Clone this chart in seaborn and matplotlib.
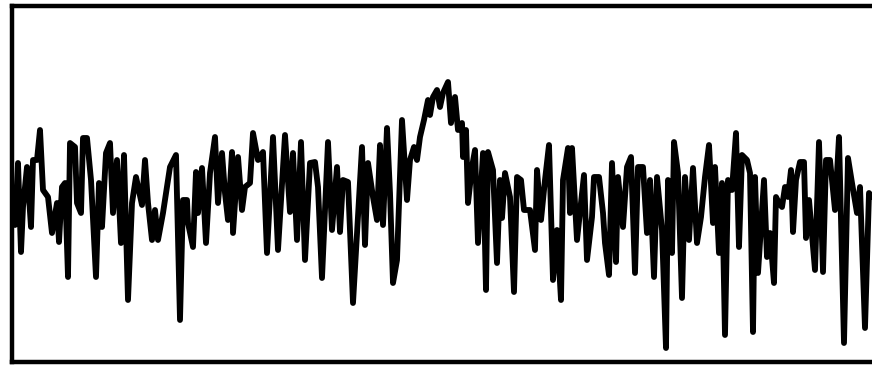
import matplotlib
matplotlib.use("Agg")
import matplotlib.pyplot as plt
import seaborn as sns
import pandas as pd

# readings: sample position and signal level (arbitrary units)
time = [
    13, 15, 18, 21, 23, 27, 31, 33, 37, 40, 43, 48, 52, 57, 59, 62, 65, 68, 70, 75,
    77, 81, 83, 87, 91, 96, 99, 102, 106, 110, 113, 117, 121, 124, 128, 132, 136, 142,
    145, 148, 152, 155, 158, 163, 170, 176, 180, 183, 187, 188, 193, 196, 198, 202,
    206, 210, 215, 218, 222, 225, 228, 232, 233, 238, 242, 245, 250, 253, 258, 263,
    267, 273, 278, 285, 290, 293, 297, 301, 305, 310, 315, 318, 322, 328, 332, 337,
    340, 343, 348, 353, 362, 365, 368, 373, 377, 380, 383, 387, 390, 393, 397, 402,
    407, 410, 414, 417, 420, 424, 428, 430, 433, 437, 440, 443, 448, 451, 455, 458,
    462, 463, 466, 468, 472, 475, 478, 483, 486, 488, 493, 497, 500, 502, 505, 510,
    514, 517, 521, 524, 530, 535, 537, 541, 545, 549, 553, 557, 561, 563, 568, 570,
    572, 577, 584, 587, 592, 594, 599, 603, 605, 609, 612, 616, 618, 623, 627, 631,
    635, 638, 643, 647, 650, 654, 657, 662, 666, 668, 672, 674, 678, 682, 685, 689,
    693, 697, 701, 705, 709, 713, 715, 719, 722, 725, 728, 732, 736, 739, 742, 747,
    750, 753, 755, 758, 764, 767, 770, 774, 776, 779, 782, 785, 788, 791, 793, 796,
    800, 804, 806, 809, 815, 819, 823, 826, 830, 835, 839, 844, 848, 852, 857, 860,
    865, 869, 872,
]
level_px = [
    200, 225, 163, 252, 207, 167, 227, 160, 160, 130, 190, 197, 233, 203, 242, 187, 183, 277, 143, 147,
    203, 213, 138, 138, 180, 277, 183, 227, 153, 143, 213, 160, 243, 155, 300, 203, 177, 205,
    160, 203, 240, 210, 240, 213, 167, 155, 320, 200, 200, 223, 247, 172, 213, 168,
    243, 173, 137, 203, 153, 193, 220, 152, 233, 157, 210, 187, 183, 133, 160, 152,
    253, 137, 250, 135, 212, 153, 240, 142, 260, 163, 162, 187, 278, 142, 230, 167,
    232, 180, 182, 303, 147, 245, 163, 197, 220, 145, 225, 128, 193, 283, 260, 120,
    200, 160, 147, 160, 137, 120, 100, 115, 97, 90, 107, 93, 82, 123, 97, 130,
    123, 157, 130, 203, 167, 150, 243, 153, 290, 152, 170, 263, 180, 218, 173, 197,
    292, 177, 180, 210, 210, 250, 170, 220, 180, 145, 280, 230, 300, 180, 148, 213,
    148, 240, 175, 260, 217, 177, 177, 213, 243, 275, 163, 262, 177, 227, 167, 157,
    273, 167, 167, 233, 180, 277, 177, 230, 348, 180, 253, 142, 173, 298, 177, 240,
    168, 243, 217, 177, 145, 223, 167, 253, 183, 335, 180, 190, 133, 247, 155, 160,
    173, 332, 177, 273, 180, 257, 233, 283, 197, 203, 207, 187, 197, 170, 232, 180,
    162, 162, 238, 200, 270, 142, 272, 160, 160, 210, 137, 343, 158, 183, 213, 187,
    328, 193, 197,
]
baseline = 362
level = [baseline - v for v in level_px]

df = pd.DataFrame({"time": time, "level": level})

sns.set_style("white")
fig = plt.figure(figsize=(8.72, 3.67), dpi=100)
ax = fig.add_axes([11.5 / 872, 5 / 367, 1 - 11.5 / 872, (361.5 - 5) / 367])

sns.lineplot(data=df, x="time", y="level", ax=ax, color="black",
             linewidth=4.2, estimator=None, sort=False,
             solid_joinstyle="round", solid_capstyle="round")

ax.set_xlim(11.5, 872)
ax.set_ylim(0, 356.5)
ax.set_xticks([])
ax.set_yticks([])
ax.set_xlabel("")
ax.set_ylabel("")
for side in ["left", "top", "bottom"]:
    ax.spines[side].set_color("black")
    ax.spines[side].set_linewidth(3.2)
ax.spines["right"].set_visible(False)

fig.savefig("out.png", dpi=100)
